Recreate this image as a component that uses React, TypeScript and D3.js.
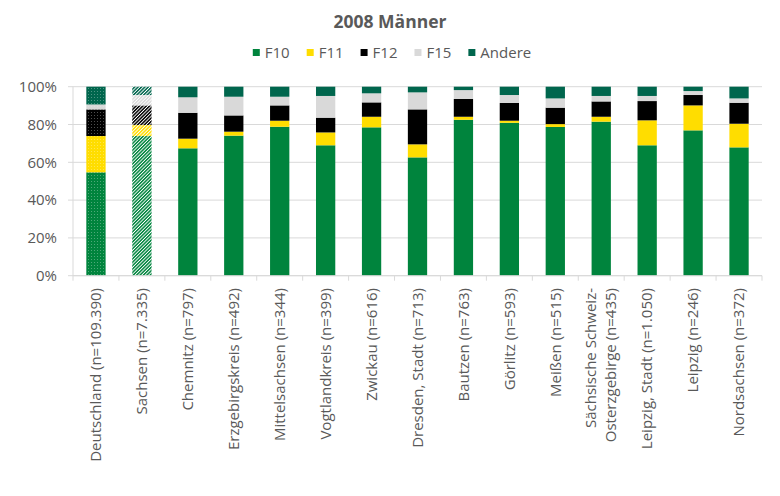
import React, { useEffect } from "react";
import * as d3 from "d3";

const categories = [
  "Deutschland (n=109.390)",
  "Sachsen (n=7.335)",
  "Chemnitz (n=797)",
  "Erzgebirgskreis (n=492)",
  "Mittelsachsen (n=344)",
  "Vogtlandkreis (n=399)",
  "Zwickau (n=616)",
  "Dresden, Stadt (n=713)",
  "Bautzen (n=763)",
  "Görlitz (n=593)",
  "Meißen (n=515)",
  "Sächsische Schweiz-\nOsterzgebirge (n=435)",
  "Leipzig, Stadt (n=1.050)",
  "Leipzig (n=246)",
  "Nordsachsen (n=372)",
];

const seriesNames = ["F10", "F11", "F12", "F15", "Andere"];
const f10 = [54.7, 73.9, 67.4, 74.1, 78.8, 69.0, 78.5, 62.6, 82.5, 80.9, 78.7, 81.5, 69.0, 76.9, 67.9];
const f11 = [19.2, 5.8, 5.1, 2.1, 3.2, 6.8, 5.6, 6.9, 1.6, 1.1, 1.5, 2.6, 13.2, 13.2, 12.5];
const f12 = [14.1, 10.4, 13.7, 8.6, 8.1, 7.8, 7.6, 18.5, 9.4, 9.4, 8.7, 8.1, 10.2, 5.5, 11.1];
const f15 = [2.6, 5.5, 8.2, 9.9, 4.6, 11.5, 4.8, 9.0, 4.7, 4.2, 4.9, 2.9, 2.7, 2.1, 2.3];
const andere = [9.4, 4.4, 5.6, 5.3, 5.3, 4.9, 3.5, 3.0, 1.8, 4.4, 6.2, 4.9, 4.9, 2.3, 6.2];
const yTicks = [0, 20, 40, 60, 80, 100];

const colors = ["#00843D", "#FFDD00", "#000000", "#D9D9D9", "#00664D"];
const FONT = "'Open Sans', sans-serif";
const TEXT = "#595959";

export default function App() {
  useEffect(() => {
    document.body.style.margin = "0";
  }, []);

  const W = 780, H = 496;
  const left = 73, right = 762, top = 86.7, bottom = 275.7;

  const rows = categories.map((c, i) => ({
    cat: c,
    F10: f10[i], F11: f11[i], F12: f12[i], F15: f15[i], Andere: andere[i],
  }));
  const stacked = d3.stack<any>().keys(seriesNames)(rows);

  const x = d3.scaleBand<string>().domain(categories).range([left, right]).paddingInner(0.58).paddingOuter(0.29);
  const y = d3.scaleLinear().domain([0, 100]).range([bottom, top]);
  const step = x.step();

  // legend layout
  const canvas = typeof document !== "undefined" ? document.createElement("canvas") : null;
  const ctx = canvas ? canvas.getContext("2d") : null;
  if (ctx) ctx.font = `15px ${FONT}`;
  const widths = seriesNames.map((s) => (ctx ? ctx.measureText(s).width : s.length * 8));
  const sq = 7, gapText = 5, gapItem = 17;
  const total = widths.reduce((a, w) => a + sq + gapText + w, 0) + gapItem * (seriesNames.length - 1);
  let lx = 392 - total / 2;
  const legendItems = seriesNames.map((s, i) => {
    const item = { s, x: lx, color: colors[i] };
    lx += sq + gapText + widths[i] + gapItem;
    return item;
  });

  const fillFor = (si: number, ci: number) => {
    if (ci === 0) return `url(#dots${si})`;
    if (ci === 1) return `url(#diag${si})`;
    return colors[si];
  };

  return (
    <svg width={W} height={H} style={{ display: "block", background: "#fff" }} fontFamily={FONT}>
      <defs>
        {colors.map((c, i) => (
          <pattern key={"d" + i} id={`dots${i}`} patternUnits="userSpaceOnUse" width={3} height={3}>
            <rect width={3} height={3} fill={c} />
            <rect x={1} y={1} width={1} height={1} fill={i === 3 ? "#f2f2f2" : "#ffffff"} opacity={0.3} />
          </pattern>
        ))}
        {colors.map((c, i) => (
          <pattern
            key={"c" + i}
            id={`diag${i}`}
            patternUnits="userSpaceOnUse"
            width={2.4}
            height={2.4}
            patternTransform="rotate(45)"
          >
            <rect width={2.4} height={2.4} fill="#ffffff" />
            <rect x={0} y={0} width={1.5} height={2.4} fill={c} />
          </pattern>
        ))}
      </defs>

      <text x={390} y={28} textAnchor="middle" fontSize={17.5} fontWeight="bold" fill={TEXT}>
        2008 Männer
      </text>

      {legendItems.map((it) => (
        <g key={it.s}>
          <rect x={it.x} y={49} width={sq} height={sq} fill={it.color} />
          <text x={it.x + sq + gapText} y={58} fontSize={15} fill={TEXT}>
            {it.s}
          </text>
        </g>
      ))}

      {yTicks.map((t) => (
        <g key={t}>
          <line x1={left - 5} x2={right} y1={y(t)} y2={y(t)} stroke="#D9D9D9" strokeWidth={1} />
          <text x={57} y={y(t)} dy="0.35em" textAnchor="end" fontSize={15} fill={TEXT}>
            {t}%
          </text>
        </g>
      ))}
      <line x1={left} x2={left} y1={top} y2={bottom} stroke="#D9D9D9" />

      {stacked.map((layer, si) =>
        layer.map((d, ci) => (
          <rect
            key={si + "-" + ci}
            x={x(categories[ci])}
            width={x.bandwidth()}
            y={y(d[1])}
            height={y(d[0]) - y(d[1])}
            fill={fillFor(si, ci)}
          />
        ))
      )}

      <line x1={left} x2={right} y1={bottom} y2={bottom} stroke="#D9D9D9" />
      {d3.range(categories.length + 1).map((i) => (
        <line key={i} x1={left + i * step} x2={left + i * step} y1={bottom} y2={bottom + 5} stroke="#D9D9D9" />
      ))}

      {categories.map((c) => {
        const cx = (x(c) as number) + x.bandwidth() / 2;
        const lines = c.split("\n");
        return (
          <text
            key={c}
            transform={`translate(${cx},288) rotate(-90)`}
            textAnchor="end"
            fontSize={15}
            fill={TEXT}
          >
            {lines.map((l, li) => (
              <tspan key={li} x={0} y={(li - (lines.length - 1) / 2) * 20} dy="0.35em">
                {l}
              </tspan>
            ))}
          </text>
        );
      })}
    </svg>
  );
}
